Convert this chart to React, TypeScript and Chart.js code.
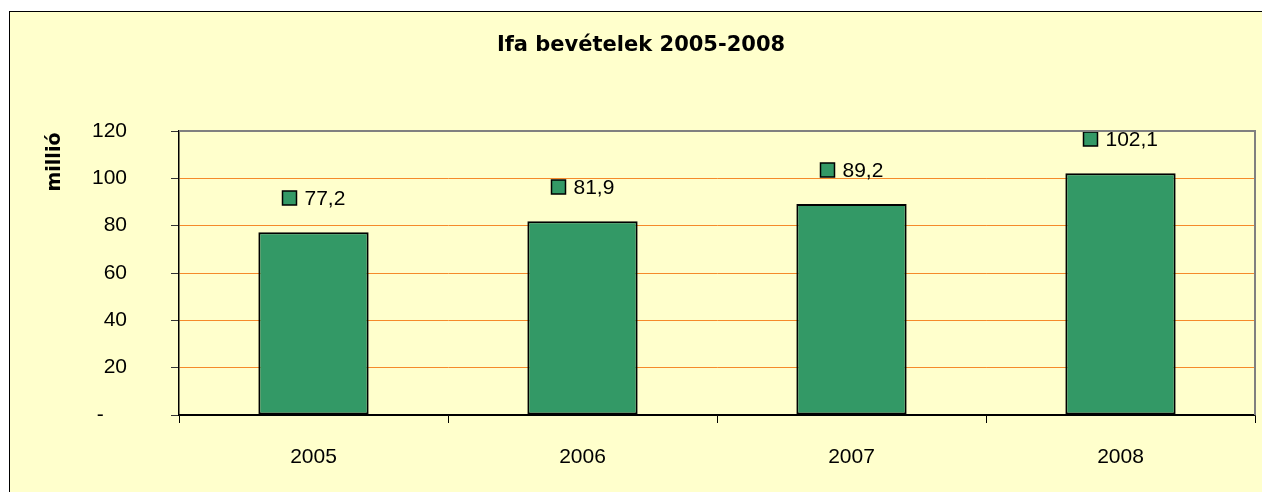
import React, { useEffect, useRef } from "react";
import { Chart, registerables } from "chart.js";

Chart.register(...registerables);

const categories = ["2005", "2006", "2007", "2008"];
const values = [77.2, 81.9, 89.2, 102.1];
const valueLabels = ["77,2", "81,9", "89,2", "102,1"];
const yTicks = [0, 20, 40, 60, 80, 100, 120];
const titleText = "Ifa bevételek 2005-2008";
const yTitle = "millió";

const W = 1262;
const H = 492;
const BAR = "#339966";
const BG = "#FFFFCC";
const GRID = "#F58A2A";
const TICK_FONT = "Liberation Sans, Arial, sans-serif";
const BOLD_FONT = "DejaVu Sans, sans-serif";

const framePlugin = {
  id: "frame",
  beforeDraw(chart: any) {
    const ctx = chart.ctx;
    ctx.save();
    ctx.fillStyle = "#FFFFFF";
    ctx.fillRect(0, 0, W, H);
    ctx.fillStyle = BG;
    ctx.fillRect(9, 11, W, H);
    ctx.strokeStyle = "#000000";
    ctx.lineWidth = 1;
    ctx.strokeRect(9.5, 11.5, W + 10, H + 10);
    // title
    ctx.fillStyle = "#000000";
    ctx.font = "bold 21px " + BOLD_FONT;
    ctx.textAlign = "center";
    ctx.textBaseline = "middle";
    ctx.fillText(titleText, 641, 46);
    // y title
    ctx.translate(55, 162);
    ctx.rotate(-Math.PI / 2);
    ctx.font = "bold 19px " + BOLD_FONT;
    ctx.fillText(yTitle, 0, 0);
    ctx.restore();
  },
  afterDraw(chart: any) {
    const { ctx, chartArea } = chart;
    ctx.save();
    ctx.strokeStyle = "#808080";
    ctx.lineWidth = 2;
    ctx.beginPath();
    ctx.moveTo(chartArea.left, chartArea.top);
    ctx.lineTo(chartArea.right, chartArea.top);
    ctx.lineTo(chartArea.right, chartArea.bottom);
    ctx.stroke();
    ctx.restore();
  },
  afterDatasetsDraw(chart: any) {
    const ctx = chart.ctx;
    const meta = chart.getDatasetMeta(0);
    ctx.save();
    ctx.font = "21px " + TICK_FONT;
    ctx.textBaseline = "middle";
    ctx.textAlign = "left";
    meta.data.forEach((bar: any, i: number) => {
      const label = valueLabels[i];
      const tw = ctx.measureText(label).width;
      const sq = 14;
      const gap = 8;
      const total = sq + gap + tw;
      const left = Math.round(bar.x - total / 2) + 0.5;
      const cy = Math.round(bar.y - 34);
      ctx.fillStyle = BAR;
      ctx.fillRect(left, cy - sq / 2, sq, sq);
      ctx.strokeStyle = "#000000";
      ctx.lineWidth = 1.5;
      ctx.strokeRect(left, cy - sq / 2, sq, sq);
      ctx.fillStyle = "#000000";
      ctx.fillText(label, left + sq + gap, cy + 1);
    });
    ctx.restore();
  },
};

export default function App() {
  const ref = useRef<HTMLCanvasElement | null>(null);
  useEffect(() => {
    if (!ref.current) return;
    const chart = new Chart(ref.current, {
      type: "bar",
      data: {
        labels: categories,
        datasets: [
          {
            data: values,
            backgroundColor: BAR,
            borderColor: "#000000",
            borderWidth: 2,
            borderSkipped: false,
            barPercentage: 0.41,
            categoryPercentage: 1,
          },
        ],
      },
      options: {
        animation: false,
        responsive: false,
        devicePixelRatio: 1,
        layout: { padding: { top: 131, right: 7, left: 0, bottom: 0 } },
        plugins: {
          legend: { display: false },
          title: { display: false },
          tooltip: { enabled: false },
        },
        scales: {
          x: {
            grid: {
              offset: true,
              drawOnChartArea: false,
              drawTicks: true,
              tickLength: 8,
              color: "#000000",
              tickColor: "#000000",
            },
            border: { display: true, color: "#000000", width: 1.5 },
            ticks: {
              color: "#000000",
              font: { family: TICK_FONT, size: 21 },
              padding: 22,
            },
            afterFit(scale: any) {
              scale.height = 77;
            },
          },
          y: {
            min: 0,
            max: 120,
            afterBuildTicks(scale: any) {
              scale.ticks = yTicks.map((v) => ({ value: v }));
            },
            grid: {
              drawTicks: true,
              tickLength: 8,
              color: (c: any) =>
                c.tick && c.tick.value === 120
                  ? "#808080"
                  : c.tick && c.tick.value === 0
                  ? "#000000"
                  : GRID,
              tickColor: "#333333",
              lineWidth: 1,
            },
            border: { display: true, color: "#000000", width: 1.5 },
            ticks: {
              color: "#000000",
              font: { family: TICK_FONT, size: 21 },
              padding: 44,
              callback: (v: any) =>
                v === 0 ? "-\u00a0\u00a0\u00a0\u00a0" : String(v),
            },
            afterFit(scale: any) {
              scale.width = 179;
            },
          },
        },
      },
      plugins: [framePlugin],
    });
    return () => chart.destroy();
  }, []);
  return (
    <div style={{ position: "absolute", left: 0, top: 0, width: W, height: H }}>
      <canvas ref={ref} width={W} height={H} style={{ display: "block" }} />
    </div>
  );
}
